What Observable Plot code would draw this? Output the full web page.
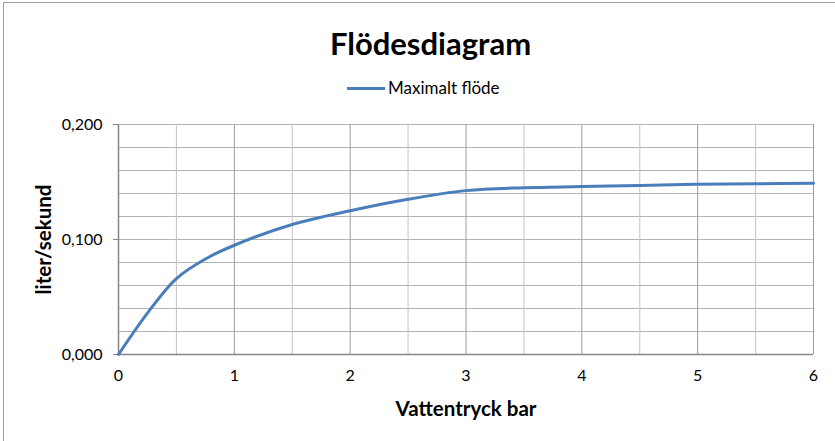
<!DOCTYPE html>
<html><head><meta charset="utf-8">
<script src="https://cdn.jsdelivr.net/npm/d3@7"></script>
<script src="https://cdn.jsdelivr.net/npm/@observablehq/plot@0.6"></script>
<style>
body{margin:0;background:#fff;font-family:Lato,"Open Sans",sans-serif;}
#wrap{position:relative;width:835px;height:441px;overflow:hidden;}
#frame{position:absolute;left:3px;top:2px;width:900px;height:500px;border-left:1.5px solid #a0a0a0;border-top:1.5px solid #a0a0a0;box-sizing:border-box;}
#title{position:absolute;left:0;top:25px;width:861px;text-align:center;font-weight:bold;font-size:31px;line-height:36px;color:#000;}
#legend{position:absolute;left:347px;top:77px;font-size:17px;line-height:22px;color:#000;display:flex;align-items:center;}
#legend span.sw{display:inline-block;width:38px;height:3px;background:#4a7ebb;margin-right:3px;}
#chart{position:absolute;left:0;top:0;}
</style></head>
<body><div id="wrap"><div id="frame"></div><div id="chart"></div>
<div id="title">Flödesdiagram</div>
<div id="legend"><span class="sw"></span>Maximalt flöde</div></div>
<script>
const pressure = [0, 0.25, 0.5, 0.75, 1, 1.5, 2, 2.5, 3, 3.5, 4, 4.5, 5, 5.5, 6];
const flow = [0, 0.036, 0.066, 0.083, 0.095, 0.113, 0.125, 0.135, 0.1425, 0.145, 0.146, 0.147, 0.148, 0.1485, 0.149];
const xTicks = [0, 1, 2, 3, 4, 5, 6];
const xMinor = [0.5, 1.5, 2.5, 3.5, 4.5, 5.5];
const yTicks = [0, 0.1, 0.2];
const yGrid = [0.02, 0.04, 0.06, 0.08, 0.1, 0.12, 0.14, 0.16, 0.18, 0.2];
const data = pressure.map((p, i) => ({p, f: flow[i]}));
const fmt = d => d3.format(".3f")(d).replace(".", ",");
const chart = Plot.plot({
  width: 835, height: 441,
  marginTop: 124, marginBottom: 87, marginLeft: 118, marginRight: 22,
  style: {fontFamily: "Lato, 'Open Sans', sans-serif", fontSize: "16px", color: "#000", background: "transparent"},
  x: {domain: [0, 6], label: null, axis: null},
  y: {domain: [0, 0.2], label: null, axis: null},
  marks: [
    Plot.ruleY(yGrid, {stroke: "#b4b4b4", strokeWidth: 1}),
    Plot.ruleX(xMinor, {stroke: "#c4c4c4", strokeWidth: 1}),
    Plot.ruleX(xTicks.slice(1), {stroke: "#9c9c9c", strokeWidth: 1}),
    Plot.axisY({ticks: yTicks, tickSize: 5, tickPadding: 11, tickFormat: fmt, stroke: "#868686", label: null, fontSize: 16}),
    Plot.axisX({ticks: xTicks, tickSize: 0, tickPadding: 15, tickFormat: d => String(d), label: null, fontSize: 16}),
    Plot.ruleX([0], {stroke: "#868686", strokeWidth: 1.5}),
    Plot.ruleY([0], {stroke: "#868686", strokeWidth: 1.5}),
    Plot.line(data, {x: "p", y: "f", stroke: "#4a7ebb", strokeWidth: 3, curve: "catmull-rom"}),
    Plot.text(["Vattentryck bar"], {frameAnchor: "bottom", dy: 55, fontWeight: "bold", fontSize: 20.5, text: d => d, lineAnchor: "middle", x: 3}),
    Plot.text(["liter/sekund"], {frameAnchor: "left", dx: -74, rotate: -90, textAnchor: "middle", lineAnchor: "middle", fontWeight: "bold", fontSize: 20.5, text: d => d, y: 0.1})
  ]
});
document.getElementById("chart").appendChild(chart);
</script></body></html>
